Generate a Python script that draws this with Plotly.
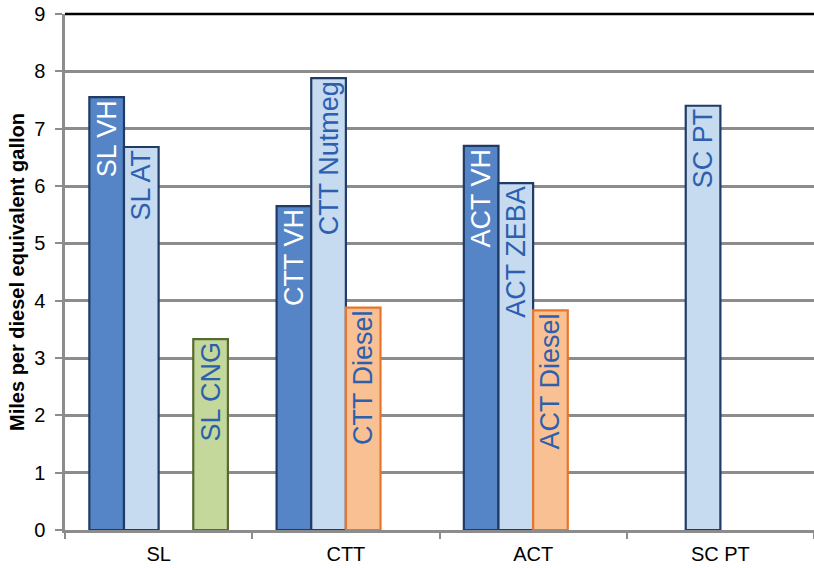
import plotly.graph_objects as go

categories = ["SL", "CTT", "ACT", "SC PT"]

vh_values = [7.55, 5.65, 6.70, None]
vh_labels = ["SL VH", "CTT VH", "ACT VH", ""]

alt_values = [6.68, 7.88, 6.05, 7.40]
alt_labels = ["SL AT", "CTT Nutmeg", "ACT ZEBA", "SC PT"]

diesel_values = [None, 3.88, 3.83, None]
diesel_labels = ["", "CTT Diesel", "ACT Diesel", ""]

cng_values = [3.33, None, None, None]
cng_labels = ["SL CNG", "", "", ""]

FONT = "Liberation Sans, Arial, sans-serif"
LABEL_BLUE = "#2C60AE"

series = [
    (vh_values, vh_labels, "#5585C6", "#1F3B66", "white"),
    (alt_values, alt_labels, "#C6DAF0", "#1F3B66", LABEL_BLUE),
    (diesel_values, diesel_labels, "#F9C093", "#E8762A", LABEL_BLUE),
    (cng_values, cng_labels, "#C4D89C", "#556B2F", LABEL_BLUE),
]

fig = go.Figure()
for vals, labels, fill, edge, tcol in series:
    fig.add_trace(go.Bar(
        x=categories, y=vals, text=labels,
        marker=dict(color=fill, line=dict(color=edge, width=2.2)),
        textposition="inside", insidetextanchor="end", textangle=-90,
        constraintext="none", cliponaxis=False,
        insidetextfont=dict(family=FONT, size=27, color=tcol),
        hoverinfo="x+y", showlegend=False,
    ))

fig.update_layout(
    width=814, height=568,
    margin=dict(l=65, r=0, t=14, b=38, autoexpand=False),
    paper_bgcolor="white", plot_bgcolor="white",
    barmode="group", bargap=0.26, bargroupgap=0,
    font=dict(family=FONT, size=20, color="black"),
    shapes=[dict(type="line", xref="paper", yref="paper", x0=0, x1=1, y0=1, y1=1,
                 line=dict(color="black", width=2.5), layer="above")],
)
fig.update_xaxes(
    type="category", showgrid=False, tickson="boundaries",
    ticks="outside", ticklen=6, tickwidth=2, tickcolor="#8C8C8C",
    showline=True, linecolor="#8C8C8C", linewidth=2.5,
    ticklabelstandoff=4,
    tickfont=dict(family=FONT, size=20, color="black"),
)
fig.update_yaxes(
    range=[0, 9], dtick=1, showgrid=True, gridcolor="#8C8C8C", gridwidth=2.5,
    zeroline=False, showline=True, linecolor="#8C8C8C", linewidth=2.5,
    ticks="outside", ticklen=7, tickwidth=2, tickcolor="#8C8C8C",
    ticklabelstandoff=6,
    tickfont=dict(family=FONT, size=20, color="black"),
    title=dict(text="<b>Miles per diesel equivalent gallon</b>",
               font=dict(family=FONT, size=20, color="black"), standoff=5),
)

fig.write_html(
    "out.html",
    config={"displayModeBar": False},
    post_script="document.body.style.margin='0';document.body.style.overflow='hidden';",
)
